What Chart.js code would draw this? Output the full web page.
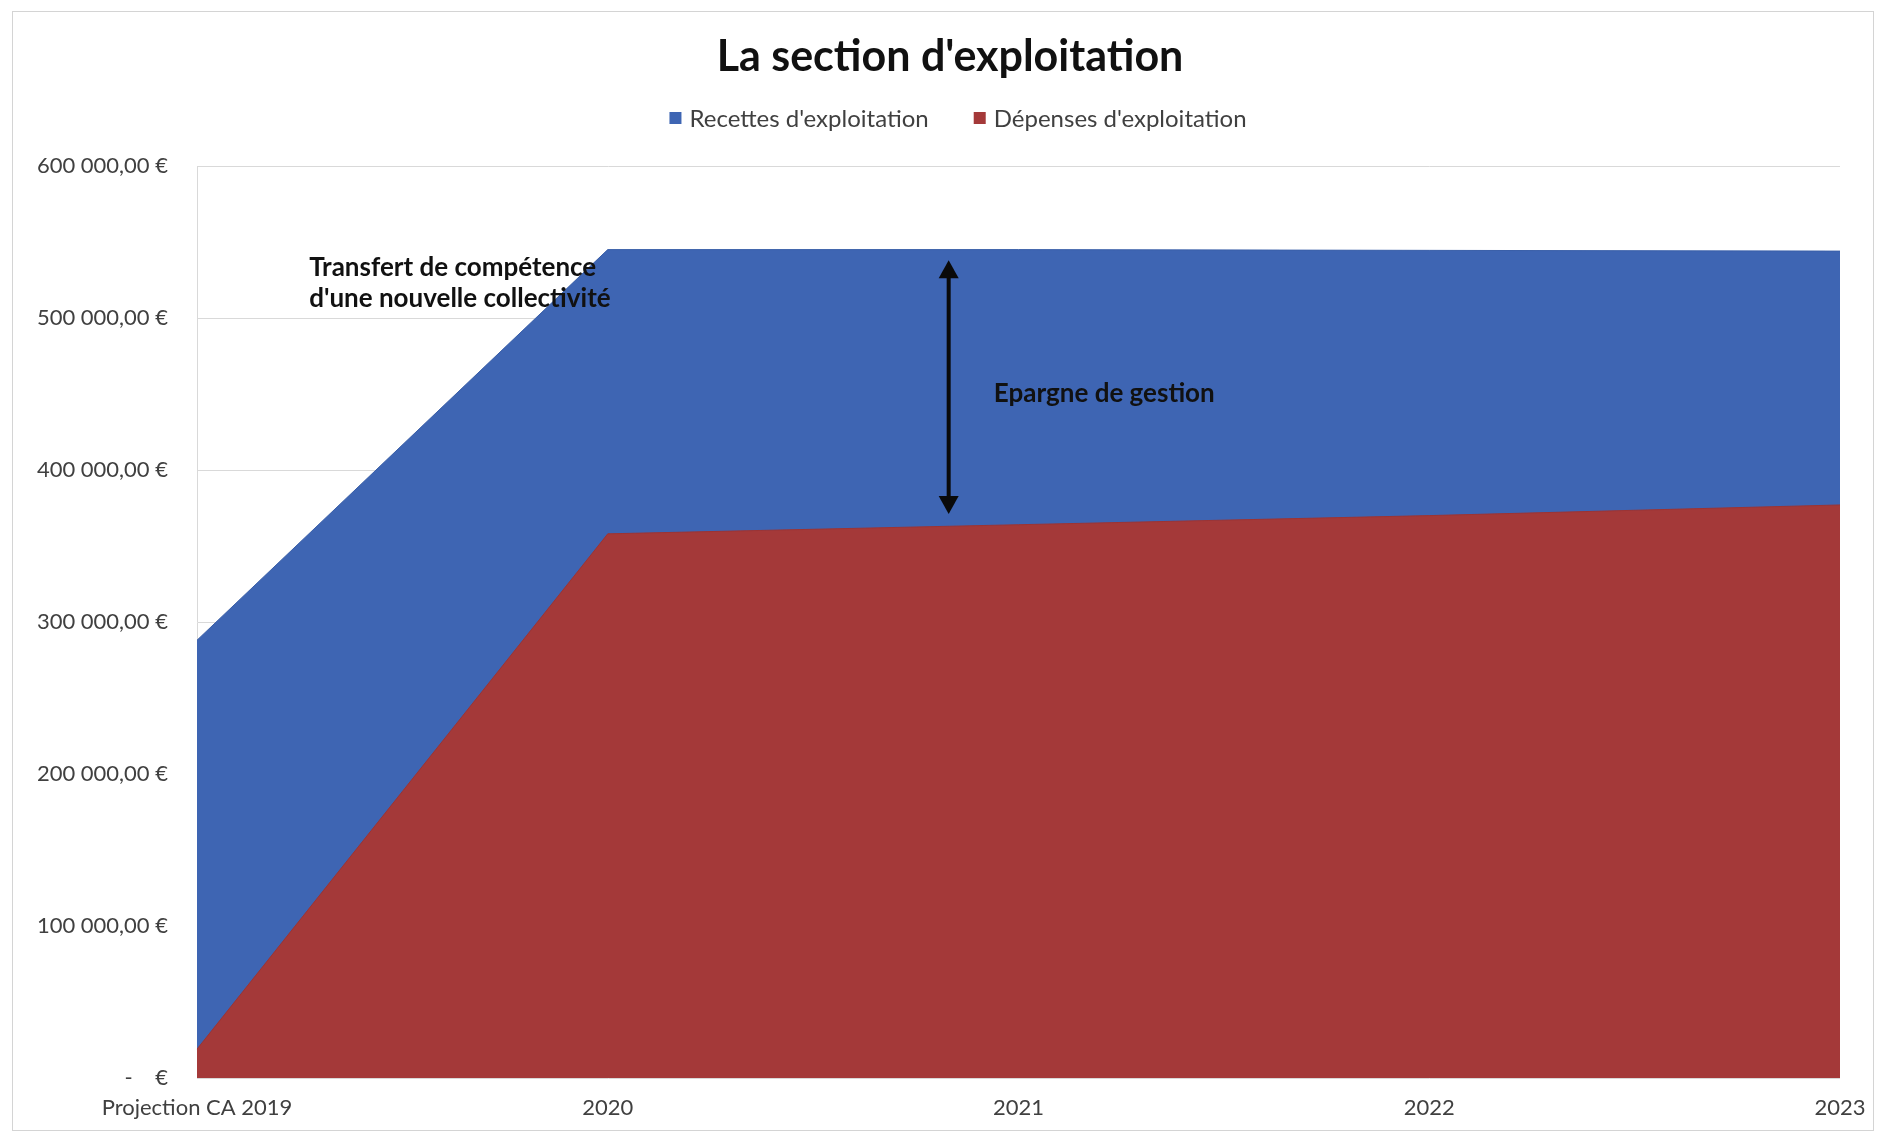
<!DOCTYPE html>
<html>
<head>
<meta charset="utf-8">
<script src="https://cdn.jsdelivr.net/npm/chart.js@4/dist/chart.umd.min.js"></script>
<style>
  html, body { margin: 0; padding: 0; background: #ffffff; overflow: hidden; }
  #wrap { position: relative; width: 1878px; height: 1133px; }
  #c { display: block; }
</style>
</head>
<body>
<div id="wrap"><canvas id="c"></canvas></div>
<script>
// ---- Data ----
const categories = ['Projection CA 2019', '2020', '2021', '2022', '2023'];
const recettes = [288000, 545000, 545000, 544500, 544000];
const depenses = [19000, 358000, 364000, 370000, 377000];
const seriesNames = ["Recettes d'exploitation", "Dépenses d'exploitation"];
const yTicks = [0, 100000, 200000, 300000, 400000, 500000, 600000];
const titleText = "La section d'exploitation";
const noteTransfert = ["Transfert de compétence", "d'une nouvelle collectivité"];
const noteEpargne = "Epargne de gestion";

const BLUE = '#3e65b3';
const RED = '#a43939';
const FONT = 'Lato, "Open Sans", sans-serif';

function fmtEuro(v) {
  if (v === 0) return '-    €';
  const s = Math.round(v).toString().replace(/\B(?=(\d{3})+(?!\d))/g, ' ');
  return s + ',00 €';
}

const framePlugin = {
  id: 'frame',
  beforeDraw(chart) {
    const ctx = chart.ctx;
    ctx.save();
    ctx.fillStyle = '#ffffff';
    ctx.fillRect(0, 0, chart.width, chart.height);
    ctx.strokeStyle = '#d4d4d4';
    ctx.lineWidth = 1;
    ctx.strokeRect(12.5, 11.5, chart.width - 17, chart.height - 14);
    ctx.restore();
  }
};

const headerPlugin = {
  id: 'header',
  afterDraw(chart) {
    const ctx = chart.ctx;
    ctx.save();
    ctx.fillStyle = '#111111';
    ctx.font = 'bold 43px ' + FONT;
    ctx.textAlign = 'center';
    ctx.textBaseline = 'middle';
    ctx.fillText(titleText, 950, 57);
    const colors = [BLUE, RED];
    ctx.font = '24px ' + FONT;
    ctx.textAlign = 'left';
    const box = 12, gapText = 8, gapItem = 45;
    const widths = seriesNames.map(n => box + gapText + ctx.measureText(n).width);
    const total = widths[0] + widths[1] + gapItem;
    let x = 958 - total / 2;
    const y = 118;
    seriesNames.forEach((n, i) => {
      ctx.fillStyle = colors[i];
      ctx.fillRect(x, y - box / 2, box, box);
      ctx.fillStyle = '#404040';
      ctx.fillText(n, x + box + gapText, y + 1);
      x += widths[i] + gapItem;
    });
    ctx.restore();
  }
};

const notesPlugin = {
  id: 'notes',
  afterDatasetsDraw(chart) {
    const ctx = chart.ctx;
    const xs = chart.scales.x, ys = chart.scales.y;
    ctx.save();
    ctx.fillStyle = '#111111';
    ctx.font = 'bold 26px ' + FONT;
    ctx.textBaseline = 'middle';
    ctx.textAlign = 'left';
    const tx = xs.getPixelForValue(0.273);
    ctx.fillText(noteTransfert[0], tx, ys.getPixelForValue(533000));
    ctx.fillText(noteTransfert[1], tx, ys.getPixelForValue(513000));
    ctx.fillText(noteEpargne, xs.getPixelForValue(1.94), ys.getPixelForValue(450000));
    const ax = xs.getPixelForValue(1.83);
    const y1 = ys.getPixelForValue(538000);
    const y2 = ys.getPixelForValue(371000);
    ctx.strokeStyle = '#0a0a0a';
    ctx.fillStyle = '#0a0a0a';
    ctx.lineWidth = 4;
    ctx.beginPath();
    ctx.moveTo(ax, y1 + 12);
    ctx.lineTo(ax, y2 - 12);
    ctx.stroke();
    ctx.beginPath();
    ctx.moveTo(ax, y1);
    ctx.lineTo(ax - 10, y1 + 18);
    ctx.lineTo(ax + 10, y1 + 18);
    ctx.closePath();
    ctx.fill();
    ctx.beginPath();
    ctx.moveTo(ax, y2);
    ctx.lineTo(ax - 10, y2 - 18);
    ctx.lineTo(ax + 10, y2 - 18);
    ctx.closePath();
    ctx.fill();
    ctx.restore();
  }
};

new Chart(document.getElementById('c'), {
  type: 'line',
  data: {
    labels: categories,
    datasets: [
      {
        label: seriesNames[0],
        data: recettes,
        backgroundColor: BLUE,
        borderColor: '#3a5fa8',
        borderWidth: 1,
        fill: 'origin',
        pointRadius: 0,
        tension: 0,
        order: 1
      },
      {
        label: seriesNames[1],
        data: depenses,
        backgroundColor: RED,
        borderColor: '#9c3434',
        borderWidth: 1,
        fill: 'origin',
        pointRadius: 0,
        tension: 0,
        order: 0
      }
    ]
  },
  options: {
    responsive: true,
    maintainAspectRatio: false,
    animation: false,
    layout: { padding: { left: 12, right: 38, top: 166, bottom: 12 } },
    plugins: {
      legend: { display: false },
      tooltip: { enabled: false },
      title: { display: false }
    },
    scales: {
      x: {
        offset: false,
        afterFit(scale) { scale.height = 43; scale.paddingRight = 0; scale.paddingLeft = 0; },
        grid: { display: false, drawTicks: false },
        border: { display: false },
        ticks: {
          color: '#404040',
          font: { family: FONT, size: 22 },
          padding: 17,
          maxRotation: 0,
          autoSkip: false
        }
      },
      y: {
        min: 0,
        max: 600000,
        afterBuildTicks(scale) { scale.ticks = yTicks.map(v => ({ value: v })); },
        afterFit(scale) { scale.width = 185; },
        grid: { color: '#d9d9d9', lineWidth: 1, drawTicks: false },
        border: { display: true, color: '#d9d9d9' },
        ticks: {
          color: '#404040',
          font: { family: FONT, size: 22 },
          padding: 29,
          callback: (v) => fmtEuro(v)
        }
      }
    }
  },
  plugins: [framePlugin, headerPlugin, notesPlugin]
});
</script>
</body>
</html>
